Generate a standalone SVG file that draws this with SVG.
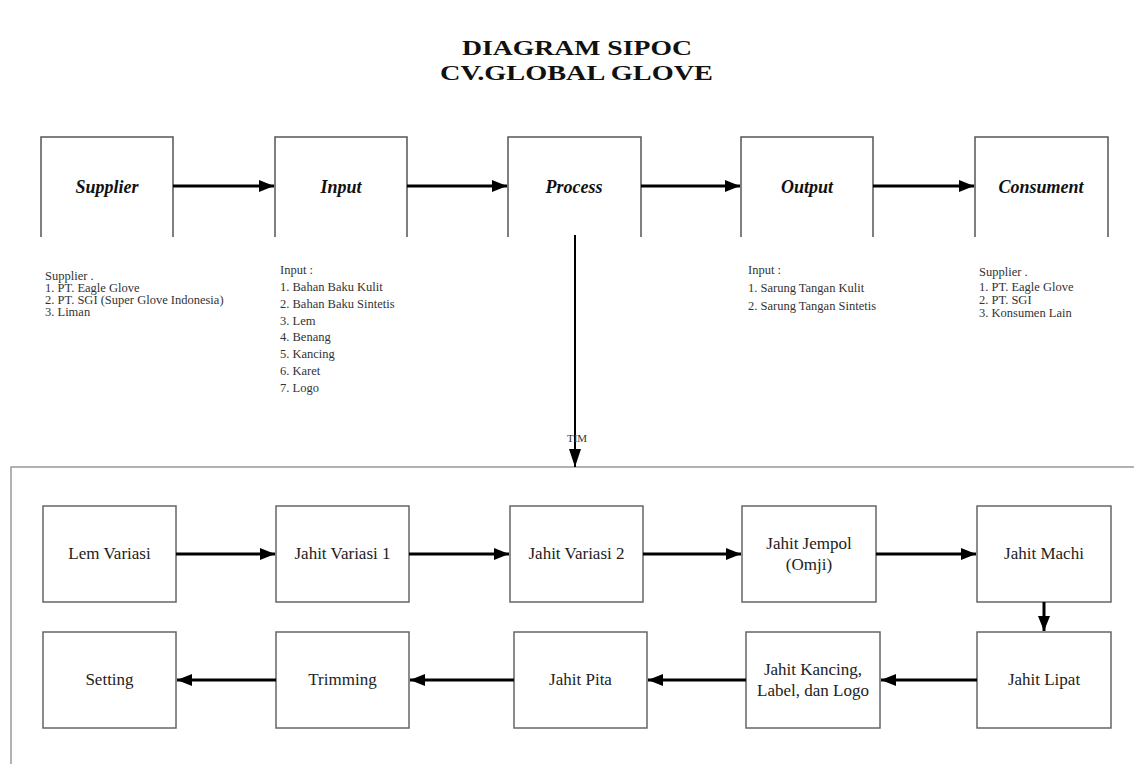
<svg xmlns="http://www.w3.org/2000/svg" width="1134" height="764" viewBox="0 0 1134 764">
<defs>
<style>
.box{fill:#fff;stroke:#666;stroke-width:1.5}
.open{fill:none;stroke:#555;stroke-width:1.5}
.lbl{font-family:"Liberation Serif","Times New Roman",serif;font-size:17px;fill:#222;text-anchor:middle}
.hd{font-family:"Liberation Serif","Times New Roman",serif;font-size:18px;font-weight:bold;font-style:italic;fill:#111;text-anchor:middle}
.lst{font-family:"Liberation Serif","Times New Roman",serif;font-size:12.5px;fill:#333}
.ttl{font-family:"Liberation Serif","Times New Roman",serif;font-size:22px;font-weight:bold;fill:#111}
.arr{stroke:#000;stroke-width:3;fill:none;marker-end:url(#ah)}
.frame{stroke:#999;stroke-width:1.5;fill:none}
</style>
<marker id="ah" viewBox="0 0 10 10" refX="10" refY="5" markerWidth="5" markerHeight="4" orient="auto" markerUnits="strokeWidth" preserveAspectRatio="none">
<path d="M0,0 L10,5 L0,10 z" fill="#000"/>
</marker>
<marker id="ah2" viewBox="0 0 10 10" refX="10" refY="5" markerWidth="9" markerHeight="6" orient="auto" markerUnits="strokeWidth" preserveAspectRatio="none">
<path d="M0,0 L10,5 L0,10 z" fill="#000"/>
</marker>
</defs>
<rect width="1134" height="764" fill="#fff"/>
<g id="title">
<text class="ttl" x="462" y="55" textLength="230" lengthAdjust="spacingAndGlyphs">DIAGRAM SIPOC</text>
<text class="ttl" x="440" y="80" textLength="273" lengthAdjust="spacingAndGlyphs">CV.GLOBAL GLOVE</text>
</g>
<g id="frame">
<path class="frame" d="M1134,467 L11,467 L11,764"/>
</g>
<g id="supplier">
<path class="open" d="M41,237 L41,137 L173,137 L173,237"/>
<text class="hd" x="107" y="193">Supplier</text>
</g>
<g id="input">
<path class="open" d="M275,237 L275,137 L407,137 L407,237"/>
<text class="hd" x="341" y="193">Input</text>
</g>
<g id="process">
<path class="open" d="M508,237 L508,137 L641,137 L641,237"/>
<text class="hd" x="574" y="193">Process</text>
</g>
<g id="output">
<path class="open" d="M741,237 L741,137 L873,137 L873,237"/>
<text class="hd" x="807" y="193">Output</text>
</g>
<g id="consument">
<path class="open" d="M975,237 L975,137 L1108,137 L1108,237"/>
<text class="hd" x="1041" y="193">Consument</text>
</g>
<g id="supplier-list" class="lst">
<text x="45" y="280">Supplier .</text>
<text x="45" y="292">1. PT. Eagle Glove</text>
<text x="45" y="304">2. PT. SGI (Super Glove Indonesia)</text>
<text x="45" y="316">3. Liman</text>
</g>
<g id="input-list" class="lst">
<text x="280" y="274">Input :</text>
<text x="280" y="291">1. Bahan Baku Kulit</text>
<text x="280" y="308">2. Bahan Baku Sintetis</text>
<text x="280" y="325">3. Lem</text>
<text x="280" y="341">4. Benang</text>
<text x="280" y="358">5. Kancing</text>
<text x="280" y="375">6. Karet</text>
<text x="280" y="392">7. Logo</text>
</g>
<g id="output-list" class="lst">
<text x="748" y="274">Input :</text>
<text x="748" y="292">1. Sarung Tangan  Kulit</text>
<text x="748" y="310">2. Sarung Tangan  Sintetis</text>
</g>
<g id="consument-list" class="lst">
<text x="979" y="276">Supplier .</text>
<text x="979" y="291">1. PT. Eagle Glove</text>
<text x="979" y="304">2. PT. SGI</text>
<text x="979" y="317">3. Konsumen Lain</text>
</g>
<g id="lem-variasi"><rect class="box" x="43" y="506" width="133" height="96"/><text class="lbl" x="109.5" y="559">Lem Variasi</text></g>
<g id="jahit-variasi-1"><rect class="box" x="276" y="506" width="133" height="96"/><text class="lbl" x="342.5" y="559">Jahit Variasi 1</text></g>
<g id="jahit-variasi-2"><rect class="box" x="510" y="506" width="133" height="96"/><text class="lbl" x="576.5" y="559">Jahit Variasi 2</text></g>
<g id="jahit-jempol"><rect class="box" x="742" y="506" width="134" height="96"/><text class="lbl" x="809" y="549">Jahit Jempol</text><text class="lbl" x="809" y="570">(Omji)</text></g>
<g id="jahit-machi"><rect class="box" x="977" y="506" width="134" height="96"/><text class="lbl" x="1044" y="559">Jahit Machi</text></g>
<g id="jahit-lipat"><rect class="box" x="977" y="632" width="134" height="96"/><text class="lbl" x="1044" y="685">Jahit Lipat</text></g>
<g id="jahit-kancing"><rect class="box" x="746" y="632" width="134" height="96"/><text class="lbl" x="813" y="675">Jahit Kancing,</text><text class="lbl" x="813" y="696">Label, dan Logo</text></g>
<g id="jahit-pita"><rect class="box" x="514" y="632" width="133" height="96"/><text class="lbl" x="580.5" y="685">Jahit Pita</text></g>
<g id="trimming"><rect class="box" x="276" y="632" width="133" height="96"/><text class="lbl" x="342.5" y="685">Trimming</text></g>
<g id="setting"><rect class="box" x="43" y="632" width="133" height="96"/><text class="lbl" x="109.5" y="685">Setting</text></g>
<g id="connectors">
<line class="arr" x1="173" y1="186" x2="274" y2="186"/>
<line class="arr" x1="407" y1="186" x2="507" y2="186"/>
<line class="arr" x1="641" y1="186" x2="740" y2="186"/>
<line class="arr" x1="873" y1="186" x2="974" y2="186"/>
<line x1="575" y1="235" x2="575" y2="467" style="stroke:#000;stroke-width:2;marker-end:url(#ah2)"/>
<line class="arr" x1="176" y1="554" x2="275" y2="554"/>
<line class="arr" x1="409" y1="554" x2="509" y2="554"/>
<line class="arr" x1="643" y1="554" x2="741" y2="554"/>
<line class="arr" x1="876" y1="554" x2="976" y2="554"/>
<line class="arr" x1="1044" y1="602" x2="1044" y2="631"/>
<line class="arr" x1="977" y1="680" x2="881" y2="680"/>
<line class="arr" x1="746" y1="680" x2="648" y2="680"/>
<line class="arr" x1="514" y1="680" x2="410" y2="680"/>
<line class="arr" x1="276" y1="680" x2="177" y2="680"/>
</g>
<g id="tim-label">
<text x="577" y="442" style="font-family:'Liberation Serif',serif;font-size:11px;fill:#333;text-anchor:middle">TIM</text>
</g>
</svg>
